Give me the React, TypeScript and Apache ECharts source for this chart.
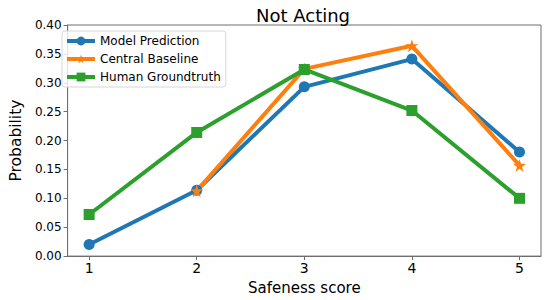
import React, { useEffect, useRef } from "react";
import * as echarts from "echarts";

const scores = [1, 2, 3, 4, 5];
const modelPrediction = [0.02, 0.114, 0.293, 0.341, 0.18];
const centralBaseline = [null, 0.113, 0.324, 0.364, 0.157];
const humanGroundtruth = [0.072, 0.214, 0.323, 0.252, 0.1];

const STAR =
  "path://M50,0 L61.8,35.5 L100,35.5 L69.1,57.4 L80.9,93.3 L50,71.3 L19.1,93.3 L30.9,57.4 L0,35.5 L38.2,35.5 Z";

const FONT = "DejaVu Sans";

export default function App() {
  const ref = useRef<HTMLDivElement>(null);
  useEffect(() => {
    if (!ref.current) return;
    const chart = echarts.init(ref.current, undefined, { renderer: "svg" });
    const mk = (vals: (number | null)[]) =>
      scores.map((s, i) => [s, vals[i]]).filter((p) => p[1] !== null);
    const series = [
      { name: "Model Prediction", data: mk(modelPrediction), color: "#1f77b4", symbol: "circle", size: 11 },
      { name: "Central Baseline", data: mk(centralBaseline), color: "#ff7f0e", symbol: STAR, size: 13 },
      { name: "Human Groundtruth", data: mk(humanGroundtruth), color: "#2ca02c", symbol: "rect", size: 11 },
    ];
    chart.setOption({
      animation: false,
      backgroundColor: "#ffffff",
      textStyle: { fontFamily: FONT },
      title: {
        text: "Not Acting",
        left: 298,
        textAlign: "center",
        top: 1,
        textStyle: { fontFamily: FONT, fontSize: 18, fontWeight: "normal", color: "#000" },
      },
      legend: {
        left: 62,
        top: 31,
        orient: "vertical",
        itemWidth: 28,
        itemHeight: 11,
        itemGap: 6,
        padding: [4, 5, 4, 3],
        borderColor: "#d6d6d6",
        borderWidth: 1,
        borderRadius: 3,
        backgroundColor: "rgba(255,255,255,0.8)",
        textStyle: { fontFamily: FONT, fontSize: 12, color: "#000" },
        lineStyle: { width: 4 },
        data: series.map((s) => s.name),
      },
      grid: { left: 56, right: 9, top: 25, bottom: 43, show: true, borderColor: "#6e6e6e", borderWidth: 1 },
      xAxis: {
        type: "value",
        min: 0.8,
        max: 5.2,
        name: "Safeness score",
        nameLocation: "middle",
        nameGap: 21,
        nameTextStyle: { fontFamily: FONT, fontSize: 15, color: "#000" },
        axisLine: { show: true, lineStyle: { color: "#6e6e6e" } },
        axisTick: { show: true, length: 4, lineStyle: { color: "#6e6e6e" }, customValues: scores },
        axisLabel: { fontFamily: FONT, fontSize: 14, color: "#000", margin: 5, customValues: scores },
        splitLine: { show: false },
      },
      yAxis: {
        type: "value",
        min: 0,
        max: 0.4,
        interval: 0.05,
        name: "Probability",
        nameLocation: "middle",
        nameGap: 38,
        nameTextStyle: { fontFamily: FONT, fontSize: 15.5, color: "#000" },
        axisLine: { show: true, lineStyle: { color: "#6e6e6e" } },
        axisTick: { show: true, length: 4, lineStyle: { color: "#6e6e6e" } },
        axisLabel: {
          fontFamily: FONT,
          fontSize: 12,
          color: "#000",
          margin: 6,
          formatter: (v: number) => v.toFixed(2),
        },
        splitLine: { show: false },
      },
      series: series.map((s) => ({
        type: "line",
        name: s.name,
        data: s.data,
        symbol: s.symbol,
        symbolSize: s.size,
        showAllSymbol: true,
        color: s.color,
        lineStyle: { width: 4, color: s.color },
        itemStyle: { color: s.color },
        emphasis: { disabled: true },
      })),
    });
    return () => chart.dispose();
  }, []);
  return (
    <div
      ref={ref}
      style={{ position: "absolute", left: 0, top: 0, width: 550, height: 300 }}
    />
  );
}
